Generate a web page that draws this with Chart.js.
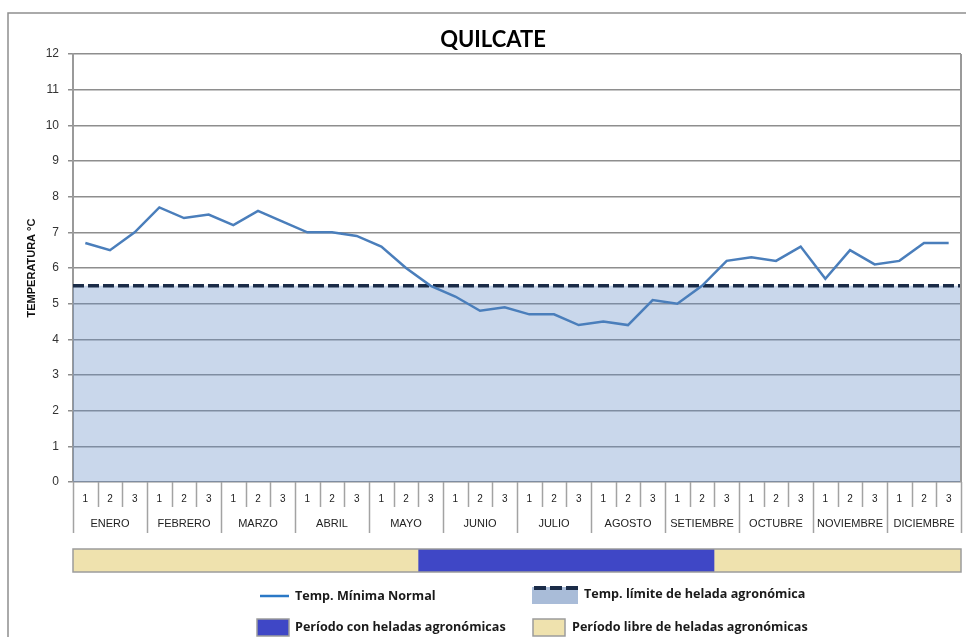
<!DOCTYPE html>
<html>
<head>
<meta charset="utf-8">
<title>QUILCATE</title>
<script src="https://cdn.jsdelivr.net/npm/chart.js@4.4.0/dist/chart.umd.min.js"></script>
<style>
  html, body { margin: 0; padding: 0; background: #fff; }
  canvas { display: block; }
</style>
</head>
<body>
<canvas id="quilcate" width="966" height="637"></canvas>
<script>
// datos por decadas (3 por mes)
var months = ["ENERO", "FEBRERO", "MARZO", "ABRIL", "MAYO", "JUNIO", "JULIO", "AGOSTO", "SETIEMBRE", "OCTUBRE", "NOVIEMBRE", "DICIEMBRE"];
var decades = ["1", "2", "3"];
var tempMin = [6.7, 6.5, 7.0,  7.7, 7.4, 7.5,  7.2, 7.6, 7.3,  7.0, 7.0, 6.9,
               6.6, 6.0, 5.5,  5.2, 4.8, 4.9,  4.7, 4.7, 4.4,  4.5, 4.4, 5.1,
               5.0, 5.5, 6.2,  6.3, 6.2, 6.6,  5.7, 6.5, 6.1,  6.2, 6.7, 6.7];
var frostLimit = 5.5;
var frostPeriod = [15, 26];   // primera y ultima decada con heladas (MAYO 3 - SETIEMBRE 2)
var legendLabels = ["Temp. Mínima Normal", "Temp. límite de helada agronómica",
                    "Período con heladas agronómicas", "Período libre de heladas agronómicas"];

var lineColor = "#4a7ebb";
var limitColor = "#1b2c48";
var frostColor = "#3f47c6";
var freeColor = "#efe2ae";
var sepColor = "#a3a3a3";

var nDec = months.length * decades.length;
var linePoints = tempMin.map(function (v, i) { return { x: i + 1, y: v }; });
var limitPoints = [{ x: 0.5, y: frostLimit }, { x: nDec + 0.5, y: frostLimit }];

var decoPlugin = {
  id: "deco",
  beforeDraw: function (chart) {
    var ctx = chart.ctx;
    ctx.save();
    ctx.fillStyle = "#fff";
    ctx.fillRect(0, 0, chart.width, chart.height);
    ctx.restore();
  },
  afterDraw: function (chart) {
    var ctx = chart.ctx;
    var xs = chart.scales.x;
    var area = chart.chartArea;
    var px = function (v) { return xs.getPixelForValue(v); };
    ctx.save();

    // marco exterior
    ctx.strokeStyle = "#8f8f8f";
    ctx.lineWidth = 1.5;
    ctx.beginPath();
    ctx.moveTo(8, chart.height);
    ctx.lineTo(8, 13);
    ctx.lineTo(chart.width, 13);
    ctx.stroke();

    // borde derecho del area
    ctx.strokeStyle = "#9a9a9a";
    ctx.lineWidth = 2;
    ctx.beginPath();
    ctx.moveTo(area.right, area.top);
    ctx.lineTo(area.right, area.bottom);
    ctx.stroke();

    // tabla de decadas / meses
    ctx.strokeStyle = sepColor;
    ctx.lineWidth = 1.5;
    for (var k = 0; k <= nDec; k++) {
      var bx = Math.round(px(k + 0.5)) + 0.5;
      ctx.beginPath();
      ctx.moveTo(bx, area.bottom);
      ctx.lineTo(bx, area.bottom + (k % 3 === 0 ? 51 : 25));
      ctx.stroke();
    }
    ctx.fillStyle = "#222";
    ctx.textAlign = "center";
    ctx.textBaseline = "middle";
    ctx.font = "10px 'Liberation Sans', Arial, sans-serif";
    for (var i = 0; i < nDec; i++) {
      ctx.fillText(decades[i % 3], px(i + 1), area.bottom + 17);
    }
    ctx.font = "11px 'Liberation Sans', Arial, sans-serif";
    for (var m = 0; m < months.length; m++) {
      ctx.fillText(months[m], px(m * 3 + 2), area.bottom + 42);
    }

    // barra de periodos
    var by = area.bottom + 67, bh = 23;
    ctx.fillStyle = freeColor;
    ctx.fillRect(px(0.5), by, px(nDec + 0.5) - px(0.5), bh);
    ctx.fillStyle = frostColor;
    ctx.fillRect(px(frostPeriod[0] - 0.5), by, px(frostPeriod[1] + 0.5) - px(frostPeriod[0] - 0.5), bh);
    ctx.strokeStyle = "#9c9c9c";
    ctx.lineWidth = 1.5;
    ctx.strokeRect(px(0.5), by, px(nDec + 0.5) - px(0.5), bh);

    // titulo
    ctx.fillStyle = "#000";
    ctx.textAlign = "center";
    ctx.textBaseline = "alphabetic";
    ctx.font = "bold 22px Lato, 'Open Sans', sans-serif";
    ctx.fillText("QUILCATE", 493, 47);

    // leyenda
    ctx.textAlign = "left";
    ctx.textBaseline = "middle";
    ctx.font = "bold 12.6px 'Open Sans', sans-serif";
    ctx.fillStyle = "#1a1a1a";

    ctx.strokeStyle = "#2a78c6";
    ctx.lineWidth = 2.5;
    ctx.beginPath();
    ctx.moveTo(260, 596);
    ctx.lineTo(289, 596);
    ctx.stroke();
    ctx.fillText(legendLabels[0], 295, 596);

    ctx.fillStyle = "#a9bcd8";
    ctx.fillRect(532, 587, 46, 17);
    ctx.strokeStyle = limitColor;
    ctx.lineWidth = 4;
    ctx.setLineDash([12, 4]);
    ctx.beginPath();
    ctx.moveTo(534, 588);
    ctx.lineTo(578, 588);
    ctx.stroke();
    ctx.setLineDash([]);
    ctx.fillStyle = "#1a1a1a";
    ctx.fillText(legendLabels[1], 584, 594);

    ctx.strokeStyle = "#9c9c9c";
    ctx.lineWidth = 1.5;
    ctx.fillStyle = frostColor;
    ctx.fillRect(257, 619, 32, 17);
    ctx.strokeRect(257, 619, 32, 17);
    ctx.fillStyle = freeColor;
    ctx.fillRect(533, 619, 32, 17);
    ctx.strokeRect(533, 619, 32, 17);
    ctx.fillStyle = "#1a1a1a";
    ctx.fillText(legendLabels[2], 295, 627);
    ctx.fillText(legendLabels[3], 572, 627);

    ctx.restore();
  }
};

var config = {
  type: "line",
  data: {
    datasets: [
      {
        label: legendLabels[0],
        data: linePoints,
        borderColor: lineColor,
        borderWidth: 2.5,
        pointRadius: 0,
        tension: 0,
        fill: false,
        order: 1
      },
      {
        label: legendLabels[1],
        data: limitPoints,
        borderColor: limitColor,
        borderWidth: 3.5,
        borderDash: [11, 4],
        backgroundColor: "rgba(101,141,198,0.35)",
        pointRadius: 0,
        fill: "origin",
        order: 2
      }
    ]
  },
  options: {
    responsive: false,
    animation: false,
    devicePixelRatio: 1,
    layout: { padding: { top: 54, right: 5, bottom: 155, left: 0 } },
    plugins: {
      legend: { display: false },
      tooltip: { enabled: false }
    },
    scales: {
      x: { type: "linear", min: 0.5, max: nDec + 0.5, display: false },
      y: {
        min: 0,
        max: 12,
        ticks: { stepSize: 1, padding: 9, color: "#333", font: { family: "'Liberation Sans', Arial, sans-serif", size: 12 } },
        grid: { color: "#8e8e8e", lineWidth: 1.5, tickLength: 5 },
        border: { color: "#9a9a9a", width: 2 },
        title: {
          display: true,
          text: "TEMPERATURA °C",
          color: "#111",
          font: { family: "'Liberation Sans', Arial, sans-serif", size: 11, weight: "bold" },
          padding: { top: 25, bottom: 0 }
        },
        afterFit: function (scale) { scale.width = 73; }
      }
    }
  },
  plugins: [decoPlugin]
};

var chart = new Chart(document.getElementById("quilcate"), config);
</script>
</body>
</html>
